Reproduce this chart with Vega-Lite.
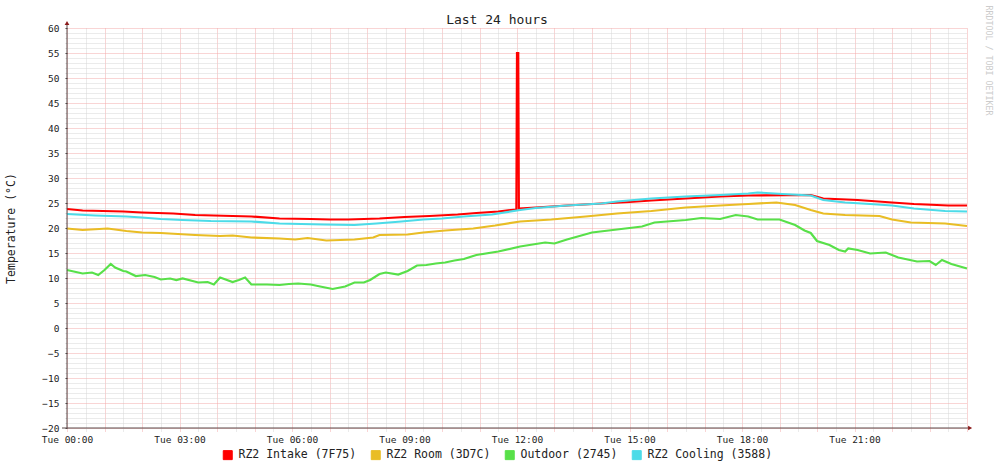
{
  "$schema": "https://vega.github.io/schema/vega-lite/v6.json",
  "width": 900,
  "height": 400,
  "autosize": {"type": "none"},
  "padding": {"left": 67, "top": 28, "right": 30, "bottom": 40},
  "background": "white",
  "config": {
    "font": "DejaVu Sans Mono",
    "view": {"stroke": null},
    "axis": {"labelFont": "DejaVu Sans Mono", "titleFont": "DejaVu Sans Mono", "titleFontWeight": "normal"}
  },
  "title": {"text": "Last 24 hours", "fontSize": 13, "font": "DejaVu Sans Mono", "fontWeight": "normal", "color": "#222", "anchor": "middle", "baseline": "alphabetic", "offset": -32, "dx": -20},
  "data": {"values": [
    {"s":"RZ2 Intake (7F75)","t":"2024-01-02T00:00Z","v":23.8},
    {"s":"RZ2 Intake (7F75)","t":"2024-01-02T00:25Z","v":23.5},
    {"s":"RZ2 Intake (7F75)","t":"2024-01-02T01:30Z","v":23.3},
    {"s":"RZ2 Intake (7F75)","t":"2024-01-02T02:00Z","v":23.1},
    {"s":"RZ2 Intake (7F75)","t":"2024-01-02T02:50Z","v":22.9},
    {"s":"RZ2 Intake (7F75)","t":"2024-01-02T03:25Z","v":22.6},
    {"s":"RZ2 Intake (7F75)","t":"2024-01-02T04:55Z","v":22.3},
    {"s":"RZ2 Intake (7F75)","t":"2024-01-02T05:40Z","v":21.9},
    {"s":"RZ2 Intake (7F75)","t":"2024-01-02T06:30Z","v":21.8},
    {"s":"RZ2 Intake (7F75)","t":"2024-01-02T07:00Z","v":21.7},
    {"s":"RZ2 Intake (7F75)","t":"2024-01-02T07:30Z","v":21.7},
    {"s":"RZ2 Intake (7F75)","t":"2024-01-02T08:20Z","v":21.9},
    {"s":"RZ2 Intake (7F75)","t":"2024-01-02T09:00Z","v":22.2},
    {"s":"RZ2 Intake (7F75)","t":"2024-01-02T09:40Z","v":22.4},
    {"s":"RZ2 Intake (7F75)","t":"2024-01-02T10:25Z","v":22.7},
    {"s":"RZ2 Intake (7F75)","t":"2024-01-02T10:55Z","v":23.0},
    {"s":"RZ2 Intake (7F75)","t":"2024-01-02T11:30Z","v":23.3},
    {"s":"RZ2 Intake (7F75)","t":"2024-01-02T11:59Z","v":23.7},
    {"s":"RZ2 Intake (7F75)","t":"2024-01-02T12:00Z","v":55},
    {"s":"RZ2 Intake (7F75)","t":"2024-01-02T12:02Z","v":55},
    {"s":"RZ2 Intake (7F75)","t":"2024-01-02T12:03Z","v":23.9},
    {"s":"RZ2 Intake (7F75)","t":"2024-01-02T12:30Z","v":24.1},
    {"s":"RZ2 Intake (7F75)","t":"2024-01-02T13:20Z","v":24.5},
    {"s":"RZ2 Intake (7F75)","t":"2024-01-02T14:15Z","v":24.9},
    {"s":"RZ2 Intake (7F75)","t":"2024-01-02T15:00Z","v":25.2},
    {"s":"RZ2 Intake (7F75)","t":"2024-01-02T15:35Z","v":25.5},
    {"s":"RZ2 Intake (7F75)","t":"2024-01-02T16:30Z","v":25.9},
    {"s":"RZ2 Intake (7F75)","t":"2024-01-02T17:25Z","v":26.3},
    {"s":"RZ2 Intake (7F75)","t":"2024-01-02T18:10Z","v":26.5},
    {"s":"RZ2 Intake (7F75)","t":"2024-01-02T19:50Z","v":26.6},
    {"s":"RZ2 Intake (7F75)","t":"2024-01-02T20:10Z","v":25.9},
    {"s":"RZ2 Intake (7F75)","t":"2024-01-02T21:05Z","v":25.6},
    {"s":"RZ2 Intake (7F75)","t":"2024-01-02T22:00Z","v":25.1},
    {"s":"RZ2 Intake (7F75)","t":"2024-01-02T22:35Z","v":24.8},
    {"s":"RZ2 Intake (7F75)","t":"2024-01-02T23:30Z","v":24.5},
    {"s":"RZ2 Intake (7F75)","t":"2024-01-03T00:00Z","v":24.5},

    {"s":"RZ2 Room (3D7C)","t":"2024-01-02T00:00Z","v":19.9},
    {"s":"RZ2 Room (3D7C)","t":"2024-01-02T00:25Z","v":19.6},
    {"s":"RZ2 Room (3D7C)","t":"2024-01-02T01:05Z","v":19.9},
    {"s":"RZ2 Room (3D7C)","t":"2024-01-02T01:35Z","v":19.4},
    {"s":"RZ2 Room (3D7C)","t":"2024-01-02T02:00Z","v":19.1},
    {"s":"RZ2 Room (3D7C)","t":"2024-01-02T02:30Z","v":19.0},
    {"s":"RZ2 Room (3D7C)","t":"2024-01-02T03:25Z","v":18.6},
    {"s":"RZ2 Room (3D7C)","t":"2024-01-02T04:05Z","v":18.4},
    {"s":"RZ2 Room (3D7C)","t":"2024-01-02T04:25Z","v":18.5},
    {"s":"RZ2 Room (3D7C)","t":"2024-01-02T04:55Z","v":18.1},
    {"s":"RZ2 Room (3D7C)","t":"2024-01-02T05:40Z","v":17.9},
    {"s":"RZ2 Room (3D7C)","t":"2024-01-02T06:05Z","v":17.7},
    {"s":"RZ2 Room (3D7C)","t":"2024-01-02T06:25Z","v":18.0},
    {"s":"RZ2 Room (3D7C)","t":"2024-01-02T06:55Z","v":17.5},
    {"s":"RZ2 Room (3D7C)","t":"2024-01-02T07:40Z","v":17.7},
    {"s":"RZ2 Room (3D7C)","t":"2024-01-02T08:10Z","v":18.1},
    {"s":"RZ2 Room (3D7C)","t":"2024-01-02T08:20Z","v":18.6},
    {"s":"RZ2 Room (3D7C)","t":"2024-01-02T09:05Z","v":18.7},
    {"s":"RZ2 Room (3D7C)","t":"2024-01-02T09:30Z","v":19.1},
    {"s":"RZ2 Room (3D7C)","t":"2024-01-02T10:05Z","v":19.5},
    {"s":"RZ2 Room (3D7C)","t":"2024-01-02T10:50Z","v":19.9},
    {"s":"RZ2 Room (3D7C)","t":"2024-01-02T11:25Z","v":20.5},
    {"s":"RZ2 Room (3D7C)","t":"2024-01-02T12:05Z","v":21.3},
    {"s":"RZ2 Room (3D7C)","t":"2024-01-02T12:55Z","v":21.7},
    {"s":"RZ2 Room (3D7C)","t":"2024-01-02T13:50Z","v":22.3},
    {"s":"RZ2 Room (3D7C)","t":"2024-01-02T14:40Z","v":22.9},
    {"s":"RZ2 Room (3D7C)","t":"2024-01-02T15:35Z","v":23.4},
    {"s":"RZ2 Room (3D7C)","t":"2024-01-02T16:30Z","v":24.1},
    {"s":"RZ2 Room (3D7C)","t":"2024-01-02T17:25Z","v":24.5},
    {"s":"RZ2 Room (3D7C)","t":"2024-01-02T18:10Z","v":24.8},
    {"s":"RZ2 Room (3D7C)","t":"2024-01-02T18:55Z","v":25.1},
    {"s":"RZ2 Room (3D7C)","t":"2024-01-02T19:25Z","v":24.6},
    {"s":"RZ2 Room (3D7C)","t":"2024-01-02T19:50Z","v":23.6},
    {"s":"RZ2 Room (3D7C)","t":"2024-01-02T20:10Z","v":22.9},
    {"s":"RZ2 Room (3D7C)","t":"2024-01-02T20:45Z","v":22.6},
    {"s":"RZ2 Room (3D7C)","t":"2024-01-02T21:40Z","v":22.4},
    {"s":"RZ2 Room (3D7C)","t":"2024-01-02T22:00Z","v":21.7},
    {"s":"RZ2 Room (3D7C)","t":"2024-01-02T22:30Z","v":21.1},
    {"s":"RZ2 Room (3D7C)","t":"2024-01-02T23:25Z","v":20.9},
    {"s":"RZ2 Room (3D7C)","t":"2024-01-03T00:00Z","v":20.4},

    {"s":"Outdoor (2745)","t":"2024-01-02T00:00Z","v":11.6},
    {"s":"Outdoor (2745)","t":"2024-01-02T00:25Z","v":10.9},
    {"s":"Outdoor (2745)","t":"2024-01-02T00:40Z","v":11.1},
    {"s":"Outdoor (2745)","t":"2024-01-02T00:50Z","v":10.6},
    {"s":"Outdoor (2745)","t":"2024-01-02T01:00Z","v":11.6},
    {"s":"Outdoor (2745)","t":"2024-01-02T01:10Z","v":12.8},
    {"s":"Outdoor (2745)","t":"2024-01-02T01:17Z","v":12.1},
    {"s":"Outdoor (2745)","t":"2024-01-02T01:30Z","v":11.4},
    {"s":"Outdoor (2745)","t":"2024-01-02T01:35Z","v":11.3},
    {"s":"Outdoor (2745)","t":"2024-01-02T01:50Z","v":10.4},
    {"s":"Outdoor (2745)","t":"2024-01-02T02:05Z","v":10.6},
    {"s":"Outdoor (2745)","t":"2024-01-02T02:20Z","v":10.2},
    {"s":"Outdoor (2745)","t":"2024-01-02T02:30Z","v":9.7},
    {"s":"Outdoor (2745)","t":"2024-01-02T02:45Z","v":9.9},
    {"s":"Outdoor (2745)","t":"2024-01-02T02:55Z","v":9.6},
    {"s":"Outdoor (2745)","t":"2024-01-02T03:05Z","v":9.9},
    {"s":"Outdoor (2745)","t":"2024-01-02T03:30Z","v":9.1},
    {"s":"Outdoor (2745)","t":"2024-01-02T03:45Z","v":9.2},
    {"s":"Outdoor (2745)","t":"2024-01-02T03:55Z","v":8.7},
    {"s":"Outdoor (2745)","t":"2024-01-02T04:05Z","v":10.1},
    {"s":"Outdoor (2745)","t":"2024-01-02T04:25Z","v":9.2},
    {"s":"Outdoor (2745)","t":"2024-01-02T04:35Z","v":9.6},
    {"s":"Outdoor (2745)","t":"2024-01-02T04:45Z","v":10.1},
    {"s":"Outdoor (2745)","t":"2024-01-02T04:55Z","v":8.7},
    {"s":"Outdoor (2745)","t":"2024-01-02T05:20Z","v":8.7},
    {"s":"Outdoor (2745)","t":"2024-01-02T05:40Z","v":8.6},
    {"s":"Outdoor (2745)","t":"2024-01-02T05:55Z","v":8.8},
    {"s":"Outdoor (2745)","t":"2024-01-02T06:10Z","v":8.9},
    {"s":"Outdoor (2745)","t":"2024-01-02T06:30Z","v":8.7},
    {"s":"Outdoor (2745)","t":"2024-01-02T06:45Z","v":8.3},
    {"s":"Outdoor (2745)","t":"2024-01-02T07:05Z","v":7.8},
    {"s":"Outdoor (2745)","t":"2024-01-02T07:25Z","v":8.3},
    {"s":"Outdoor (2745)","t":"2024-01-02T07:40Z","v":9.1},
    {"s":"Outdoor (2745)","t":"2024-01-02T07:55Z","v":9.1},
    {"s":"Outdoor (2745)","t":"2024-01-02T08:05Z","v":9.6},
    {"s":"Outdoor (2745)","t":"2024-01-02T08:20Z","v":10.8},
    {"s":"Outdoor (2745)","t":"2024-01-02T08:30Z","v":11.1},
    {"s":"Outdoor (2745)","t":"2024-01-02T08:50Z","v":10.7},
    {"s":"Outdoor (2745)","t":"2024-01-02T09:05Z","v":11.4},
    {"s":"Outdoor (2745)","t":"2024-01-02T09:20Z","v":12.5},
    {"s":"Outdoor (2745)","t":"2024-01-02T09:35Z","v":12.6},
    {"s":"Outdoor (2745)","t":"2024-01-02T09:50Z","v":12.9},
    {"s":"Outdoor (2745)","t":"2024-01-02T10:05Z","v":13.1},
    {"s":"Outdoor (2745)","t":"2024-01-02T10:20Z","v":13.5},
    {"s":"Outdoor (2745)","t":"2024-01-02T10:35Z","v":13.8},
    {"s":"Outdoor (2745)","t":"2024-01-02T10:55Z","v":14.6},
    {"s":"Outdoor (2745)","t":"2024-01-02T11:30Z","v":15.3},
    {"s":"Outdoor (2745)","t":"2024-01-02T12:05Z","v":16.3},
    {"s":"Outdoor (2745)","t":"2024-01-02T12:45Z","v":17.1},
    {"s":"Outdoor (2745)","t":"2024-01-02T13:00Z","v":16.9},
    {"s":"Outdoor (2745)","t":"2024-01-02T13:20Z","v":17.7},
    {"s":"Outdoor (2745)","t":"2024-01-02T14:00Z","v":19.1},
    {"s":"Outdoor (2745)","t":"2024-01-02T14:40Z","v":19.7},
    {"s":"Outdoor (2745)","t":"2024-01-02T15:20Z","v":20.3},
    {"s":"Outdoor (2745)","t":"2024-01-02T15:40Z","v":21.1},
    {"s":"Outdoor (2745)","t":"2024-01-02T16:30Z","v":21.6},
    {"s":"Outdoor (2745)","t":"2024-01-02T16:55Z","v":22.0},
    {"s":"Outdoor (2745)","t":"2024-01-02T17:25Z","v":21.8},
    {"s":"Outdoor (2745)","t":"2024-01-02T17:50Z","v":22.6},
    {"s":"Outdoor (2745)","t":"2024-01-02T18:10Z","v":22.3},
    {"s":"Outdoor (2745)","t":"2024-01-02T18:25Z","v":21.7},
    {"s":"Outdoor (2745)","t":"2024-01-02T19:00Z","v":21.7},
    {"s":"Outdoor (2745)","t":"2024-01-02T19:25Z","v":20.6},
    {"s":"Outdoor (2745)","t":"2024-01-02T19:40Z","v":19.5},
    {"s":"Outdoor (2745)","t":"2024-01-02T19:50Z","v":19.0},
    {"s":"Outdoor (2745)","t":"2024-01-02T20:00Z","v":17.4},
    {"s":"Outdoor (2745)","t":"2024-01-02T20:20Z","v":16.6},
    {"s":"Outdoor (2745)","t":"2024-01-02T20:35Z","v":15.6},
    {"s":"Outdoor (2745)","t":"2024-01-02T20:45Z","v":15.3},
    {"s":"Outdoor (2745)","t":"2024-01-02T20:50Z","v":15.9},
    {"s":"Outdoor (2745)","t":"2024-01-02T21:05Z","v":15.6},
    {"s":"Outdoor (2745)","t":"2024-01-02T21:25Z","v":14.9},
    {"s":"Outdoor (2745)","t":"2024-01-02T21:50Z","v":15.1},
    {"s":"Outdoor (2745)","t":"2024-01-02T22:10Z","v":14.1},
    {"s":"Outdoor (2745)","t":"2024-01-02T22:40Z","v":13.3},
    {"s":"Outdoor (2745)","t":"2024-01-02T23:00Z","v":13.4},
    {"s":"Outdoor (2745)","t":"2024-01-02T23:10Z","v":12.6},
    {"s":"Outdoor (2745)","t":"2024-01-02T23:20Z","v":13.6},
    {"s":"Outdoor (2745)","t":"2024-01-02T23:35Z","v":12.8},
    {"s":"Outdoor (2745)","t":"2024-01-03T00:00Z","v":11.9},

    {"s":"RZ2 Cooling (3588)","t":"2024-01-02T00:00Z","v":22.8},
    {"s":"RZ2 Cooling (3588)","t":"2024-01-02T00:45Z","v":22.5},
    {"s":"RZ2 Cooling (3588)","t":"2024-01-02T01:35Z","v":22.3},
    {"s":"RZ2 Cooling (3588)","t":"2024-01-02T02:00Z","v":22.1},
    {"s":"RZ2 Cooling (3588)","t":"2024-01-02T02:30Z","v":21.8},
    {"s":"RZ2 Cooling (3588)","t":"2024-01-02T03:05Z","v":21.6},
    {"s":"RZ2 Cooling (3588)","t":"2024-01-02T03:50Z","v":21.4},
    {"s":"RZ2 Cooling (3588)","t":"2024-01-02T04:55Z","v":21.3},
    {"s":"RZ2 Cooling (3588)","t":"2024-01-02T05:40Z","v":20.9},
    {"s":"RZ2 Cooling (3588)","t":"2024-01-02T06:50Z","v":20.7},
    {"s":"RZ2 Cooling (3588)","t":"2024-01-02T07:40Z","v":20.6},
    {"s":"RZ2 Cooling (3588)","t":"2024-01-02T08:15Z","v":20.9},
    {"s":"RZ2 Cooling (3588)","t":"2024-01-02T08:55Z","v":21.3},
    {"s":"RZ2 Cooling (3588)","t":"2024-01-02T09:30Z","v":21.7},
    {"s":"RZ2 Cooling (3588)","t":"2024-01-02T10:00Z","v":21.9},
    {"s":"RZ2 Cooling (3588)","t":"2024-01-02T10:35Z","v":22.3},
    {"s":"RZ2 Cooling (3588)","t":"2024-01-02T11:20Z","v":22.7},
    {"s":"RZ2 Cooling (3588)","t":"2024-01-02T12:05Z","v":23.6},
    {"s":"RZ2 Cooling (3588)","t":"2024-01-02T12:30Z","v":24.0},
    {"s":"RZ2 Cooling (3588)","t":"2024-01-02T13:20Z","v":24.5},
    {"s":"RZ2 Cooling (3588)","t":"2024-01-02T14:15Z","v":24.9},
    {"s":"RZ2 Cooling (3588)","t":"2024-01-02T14:40Z","v":25.3},
    {"s":"RZ2 Cooling (3588)","t":"2024-01-02T15:35Z","v":25.9},
    {"s":"RZ2 Cooling (3588)","t":"2024-01-02T16:30Z","v":26.3},
    {"s":"RZ2 Cooling (3588)","t":"2024-01-02T17:25Z","v":26.6},
    {"s":"RZ2 Cooling (3588)","t":"2024-01-02T18:10Z","v":26.9},
    {"s":"RZ2 Cooling (3588)","t":"2024-01-02T18:25Z","v":27.1},
    {"s":"RZ2 Cooling (3588)","t":"2024-01-02T19:05Z","v":26.8},
    {"s":"RZ2 Cooling (3588)","t":"2024-01-02T19:50Z","v":26.5},
    {"s":"RZ2 Cooling (3588)","t":"2024-01-02T20:10Z","v":25.6},
    {"s":"RZ2 Cooling (3588)","t":"2024-01-02T20:45Z","v":25.1},
    {"s":"RZ2 Cooling (3588)","t":"2024-01-02T21:25Z","v":24.8},
    {"s":"RZ2 Cooling (3588)","t":"2024-01-02T22:00Z","v":24.5},
    {"s":"RZ2 Cooling (3588)","t":"2024-01-02T22:35Z","v":23.9},
    {"s":"RZ2 Cooling (3588)","t":"2024-01-02T23:25Z","v":23.4},
    {"s":"RZ2 Cooling (3588)","t":"2024-01-03T00:00Z","v":23.3}
  ]},
  "resolve": {"axis": {"x": "independent", "y": "independent"}},
  "layer": [
    {
      "mark": {"type": "line", "strokeWidth": 2.2, "interpolate": "linear"},
      "encoding": {
        "x": {
          "field": "t", "type": "temporal",
          "scale": {"type": "utc", "domain": [1704153600000, 1704240000000], "nice": false},
          "axis": {
            "orient": "bottom", "title": null, "domain": false,
            "values": [1704153600000, 1704155400000, 1704157200000, 1704159000000, 1704160800000, 1704162600000, 1704164400000, 1704166200000, 1704168000000, 1704169800000, 1704171600000, 1704173400000, 1704175200000, 1704177000000, 1704178800000, 1704180600000, 1704182400000, 1704184200000, 1704186000000, 1704187800000, 1704189600000, 1704191400000, 1704193200000, 1704195000000, 1704196800000, 1704198600000, 1704200400000, 1704202200000, 1704204000000, 1704205800000, 1704207600000, 1704209400000, 1704211200000, 1704213000000, 1704214800000, 1704216600000, 1704218400000, 1704220200000, 1704222000000, 1704223800000, 1704225600000, 1704227400000, 1704229200000, 1704231000000, 1704232800000, 1704234600000, 1704236400000, 1704238200000, 1704240000000],
            "grid": true,
            "gridColor": {"condition": {"test": "utcminutes(datum.value) === 0", "value": "#f3abab"}, "value": "#d6d6d6"},
            "gridDash": [1, 1], "gridWidth": 1,
            "ticks": true, "tickSize": 3, "tickDash": [1, 1],
            "tickColor": {"condition": {"test": "utcminutes(datum.value) === 0", "value": "#f3abab"}, "value": "#d6d6d6"},
            "labelExpr": "utcminutes(datum.value) === 0 && utchours(datum.value) % 3 === 0 && utcdate(datum.value) === 2 ? utcFormat(datum.value, '%a %H:%M') : ''",
            "labelFont": "DejaVu Sans Mono", "labelFontSize": 9.5, "labelColor": "#222",
            "labelPadding": 3, "labelOverlap": false, "labelFlush": false, "labelBound": false
          }
        },
        "y": {
          "field": "v", "type": "quantitative",
          "scale": {"domain": [-20, 60], "nice": false, "zero": false},
          "axis": {
            "orient": "left", "title": "Temperature (°C)",
            "titleFont": "DejaVu Sans Mono", "titleFontSize": 11.5, "titleColor": "#222", "titleFontWeight": "normal",
            "titleX": -56, "titleY": 200, "titleAngle": -90, "titleAlign": "center", "titleBaseline": "middle",
            "domain": false,
            "values": [-20,-19,-18,-17,-16,-15,-14,-13,-12,-11,-10,-9,-8,-7,-6,-5,-4,-3,-2,-1,0,1,2,3,4,5,6,7,8,9,10,11,12,13,14,15,16,17,18,19,20,21,22,23,24,25,26,27,28,29,30,31,32,33,34,35,36,37,38,39,40,41,42,43,44,45,46,47,48,49,50,51,52,53,54,55,56,57,58,59,60],
            "grid": true,
            "gridColor": {"condition": {"test": "datum.value % 5 === 0", "value": "#f3abab"}, "value": "#d6d6d6"},
            "gridDash": [1, 1], "gridWidth": 1,
            "ticks": true, "tickSize": 2,
            "tickColor": {"condition": {"test": "datum.value % 5 === 0", "value": "#444"}, "value": "#d6d6d6"},
            "labelExpr": "datum.value % 5 === 0 ? datum.label : ''",
            "labelFont": "DejaVu Sans Mono", "labelFontSize": 9.5, "labelColor": "#222",
            "labelPadding": 6, "labelOverlap": false, "labelFlush": false, "labelBound": false
          }
        },
        "color": {
          "field": "s", "type": "nominal",
          "scale": {"domain": ["RZ2 Intake (7F75)", "RZ2 Room (3D7C)", "Outdoor (2745)", "RZ2 Cooling (3588)"], "range": ["#ff0000", "#e9bd25", "#58e049", "#4cdbe8"]},
          "legend": {
            "orient": "none", "legendX": 155, "legendY": 421, "direction": "horizontal", "title": null,
            "padding": 0, "symbolType": "square", "symbolSize": 81, "symbolStrokeColor": "black", "symbolStrokeWidth": 1,
            "labelFont": "DejaVu Sans Mono", "labelFontSize": 11.5, "labelColor": "#222", "labelOffset": 5, "columnPadding": 12,
            "encode": {"symbols": {"update": {"fill": {"scale": "color", "field": "value"}, "stroke": {"value": "black"}, "strokeWidth": {"value": 1}, "opacity": {"value": 1}, "fillOpacity": {"value": 1}}}}
          }
        }
      }
    },
    {
      "data": {"values": [{}]},
      "mark": {"type": "rule", "color": "#5a4848", "strokeWidth": 1},
      "encoding": {
        "x": {"datum": 1704153120000, "type": "temporal", "axis": null},
        "x2": {"datum": 1704240240000},
        "y": {"datum": -20, "type": "quantitative", "axis": null}
      }
    },
    {
      "data": {"values": [{}]},
      "mark": {"type": "rule", "color": "#5a4848", "strokeWidth": 1},
      "encoding": {
        "x": {"datum": 1704153600000, "type": "temporal", "axis": null},
        "y": {"datum": -20, "type": "quantitative",
          "axis": {"orient": "right", "title": "RRDTOOL / TOBI OETIKER", "labels": false, "ticks": false, "domain": false, "grid": false,
            "titleFont": "DejaVu Sans Mono", "titleFontSize": 8.3, "titleColor": "#cccccc", "titleFontWeight": "normal",
            "titleAngle": 90, "titleX": 20, "titleY": -23, "titleAlign": "left", "titleBaseline": "middle"}},
        "y2": {"datum": 61}
      }
    },
    {
      "data": {"values": [{}]},
      "mark": {"type": "point", "shape": "triangle-right", "filled": true, "color": "#8b1a1a", "size": 22, "opacity": 1},
      "encoding": {
        "x": {"datum": 1704240300000, "type": "temporal", "axis": null},
        "y": {"datum": -20, "type": "quantitative", "axis": null}
      }
    },
    {
      "data": {"values": [{}]},
      "mark": {"type": "point", "shape": "triangle-up", "filled": true, "color": "#8b1a1a", "size": 22, "opacity": 1},
      "encoding": {
        "x": {"datum": 1704153600000, "type": "temporal", "axis": null},
        "y": {"datum": 61, "type": "quantitative", "axis": null}
      }
    }
  ]
}
